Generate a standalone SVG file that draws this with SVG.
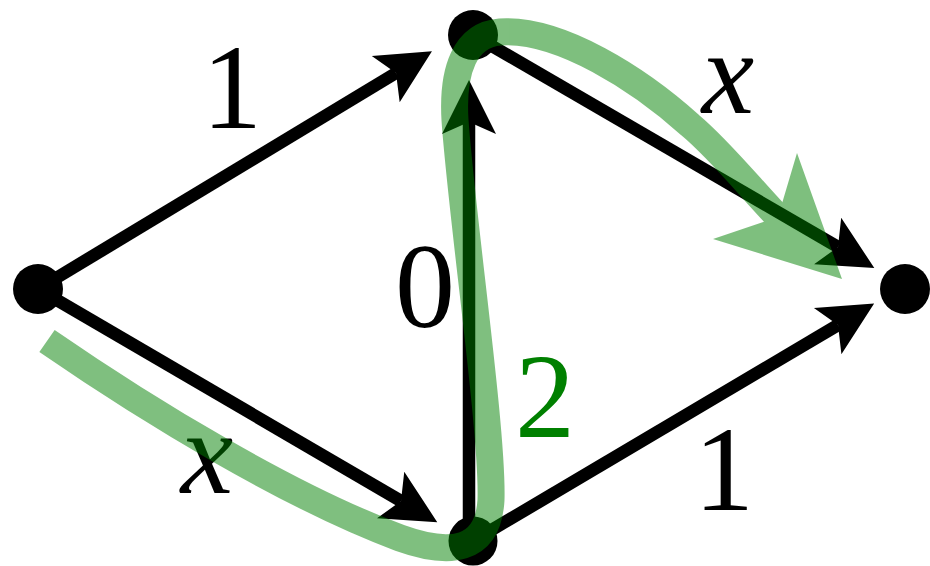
<svg xmlns="http://www.w3.org/2000/svg" width="930" height="566" viewBox="0 0 930 566">
  <defs>
    <marker id="ah" markerUnits="userSpaceOnUse" orient="auto" refX="0" refY="0" markerWidth="1" markerHeight="1" overflow="visible">
      <path d="M42,0 L-12,-27 L0,0 L-12,27 Z" fill="#000"/>
    </marker>
    <style>
      .edge { stroke: #000; stroke-width: 12.5; fill: none; marker-end: url(#ah); }
      .node { fill: #000; }
      .lbl { font-family: "Liberation Serif", "DejaVu Serif", serif; font-size: 120px; text-anchor: middle; fill: #000; }
      .var { font-style: italic; font-size: 118px; }
    </style>
  </defs>
  <rect width="930" height="566" fill="#fff"/>
  <g id="connectors">
    <line class="edge" x1="38" y1="289" x2="396" y2="73"/>
    <line class="edge" x1="38" y1="289" x2="401" y2="501"/>
    <line class="edge" x1="473" y1="35" x2="838" y2="247"/>
    <line class="edge" x1="473" y1="541" x2="838" y2="325"/>
    <path class="edge" d="M473,541 Q469,535 469,520 L469,122"/>
  </g>
  <g id="n-left"><circle class="node" cx="38" cy="289" r="25"/></g>
  <g id="n-top"><circle class="node" cx="473" cy="35" r="25"/></g>
  <g id="n-bottom"><circle class="node" cx="473" cy="541" r="24.5"/></g>
  <g id="n-right"><circle class="node" cx="905" cy="289" r="25"/></g>
  <g id="labels">
    <text class="lbl" x="232" y="128">1</text>
    <text class="lbl" x="425" y="327">0</text>
    <text class="lbl" x="724" y="510">1</text>
    <text class="lbl var" x="728" y="113">x</text>
    <text class="lbl var" x="207" y="493">x</text>
    <text class="lbl" x="545" y="437" style="fill:#008000">2</text>
  </g>
  <g id="highlight-path" opacity="0.5">
    <path d="M47,341 C150,412 290,497 400,538 C450,556 488,552 491,500 C493,430 462,220 455,120 C452,70 465,35 500,32 C560,28 640,80 690,125 C720,150 752,190 778,217" fill="none" stroke="#008000" stroke-width="27"/>
    <polygon points="842,279 797,153 778,217 713,239" fill="#008000"/>
  </g>
</svg>
